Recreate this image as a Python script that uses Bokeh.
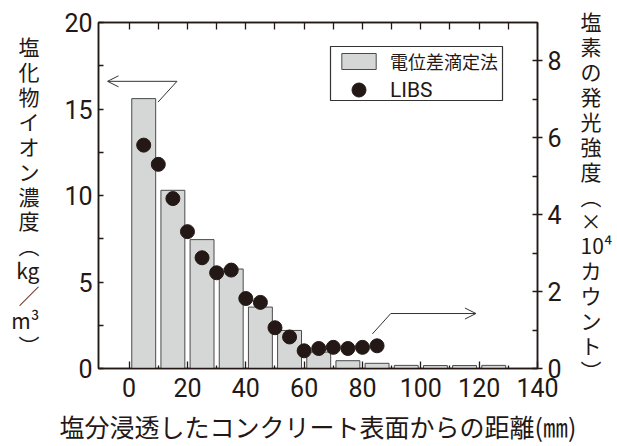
from bokeh.plotting import figure
from bokeh.models import (Range1d, LinearAxis, FixedTicker, Legend, LegendItem,
                          Arrow, OpenHead, BoxAnnotation)
from bokeh.embed import file_html
from bokeh.resources import INLINE

# ---- data ----
bar_depth = [5, 15, 25, 35, 45, 55, 65, 75, 85, 95, 105, 115, 125]
chloride = [15.6, 10.3, 7.45, 5.75, 3.55, 2.2, 0.95, 0.45, 0.3, 0.18, 0.17, 0.17, 0.18]
libs_depth = [5, 10, 15, 20, 25, 30, 35, 40, 45, 50, 55, 60, 65, 70, 75, 80, 85]
libs_intensity = [5.81, 5.31, 4.42, 3.56, 2.88, 2.49, 2.56, 1.82, 1.72, 1.06, 0.82,
                  0.46, 0.52, 0.55, 0.52, 0.55, 0.59]
x_ticks = [0, 20, 40, 60, 80, 100, 120, 140]
x_minor = [10, 30, 50, 70, 90, 110, 130]
top_ticks = [0, 10, 20, 30, 40, 50, 60, 70, 80, 90, 100, 110, 120, 130, 140]
left_ticks = [0, 5, 10, 15, 20]
left_minor = [2.5, 7.5, 12.5, 17.5]
right_ticks = [0, 2, 4, 6, 8]
right_minor = [1, 3, 5, 7]

x_title = "塩分浸透したコンクリート表面からの距離(㎜)"
left_title = ["塩", "化", "物", "イ", "オ", "ン", "濃", "度", "︵", "kg", "／", "m³", "︶"]
right_title = ["塩", "素", "の", "発", "光", "強", "度", "︵", "×", "10⁴", "カ", "ウ", "ン", "ト", "︶"]
bar_name = "電位差滴定法"
libs_name = "LIBS"

# arrows pointing to the axes: (x, y) vertices, last vertex is the head
left_arrow = [(9.9, 15.4), (16.4, 16.6), (-7.4, 16.6)]
right_arrow = [(83.4, 0.9), (89.7, 1.43), (118.9, 1.43)]

JP = "Noto Sans CJK JP"
NUM = "Roboto"
INK = "#231815"

p = figure(frame_width=439, frame_height=346,
           x_range=Range1d(-10.5, 140), y_range=Range1d(0, 20),
           output_backend="svg", toolbar_location=None,
           x_axis_location=None, y_axis_location=None,
           min_border_left=98, min_border_right=80, min_border_top=22, min_border_bottom=78)
p.extra_y_ranges = {"libs": Range1d(0, 9)}
p.outline_line_color = INK
p.outline_line_width = 1.5
p.xgrid.visible = False
p.ygrid.visible = False

def style_axis(ax):
    ax.axis_line_color = INK
    ax.axis_line_width = 1.5
    ax.major_tick_line_color = INK
    ax.minor_tick_line_color = INK
    ax.major_tick_line_width = 1.3
    ax.minor_tick_line_width = 1.3
    ax.major_label_text_font = NUM
    ax.major_label_text_font_size = "25px"
    ax.major_label_text_color = INK
    ax.axis_label_text_font = JP
    ax.axis_label_text_font_style = "normal"
    ax.axis_label_text_color = INK

bottom = LinearAxis(ticker=FixedTicker(ticks=x_ticks, minor_ticks=x_minor),
                    axis_label=x_title)
style_axis(bottom)
bottom.major_tick_in = 7
bottom.major_tick_out = 0
bottom.minor_tick_in = 3
bottom.minor_tick_out = 0
bottom.major_label_standoff = 9
bottom.axis_label_text_font_size = "25px"
bottom.axis_label_standoff = 8
p.add_layout(bottom, "below")

top = LinearAxis(ticker=FixedTicker(ticks=top_ticks))
style_axis(top)
top.major_tick_in = 7
top.major_tick_out = 0
top.minor_tick_in = 0
top.minor_tick_out = 0
top.major_label_text_font_size = "1px"
top.major_label_text_alpha = 0
p.add_layout(top, "above")

left = LinearAxis(ticker=FixedTicker(ticks=left_ticks, minor_ticks=left_minor),
                  axis_label="\n".join(left_title))
style_axis(left)
left.major_tick_in = 5
left.major_tick_out = 0
left.minor_tick_in = 5
left.minor_tick_out = 0
left.major_label_standoff = 6
left.axis_label_orientation = "horizontal"
left.axis_label_text_font_size = "21px"
left.axis_label_text_line_height = 0.83
left.axis_label_standoff = 22
p.add_layout(left, "left")

right = LinearAxis(y_range_name="libs",
                   ticker=FixedTicker(ticks=right_ticks, minor_ticks=right_minor),
                   axis_label="\n".join(right_title))
style_axis(right)
right.major_tick_in = 5
right.major_tick_out = 5
right.minor_tick_in = 5
right.minor_tick_out = 0
right.major_label_standoff = 5
right.axis_label_orientation = "horizontal"
right.axis_label_text_font_size = "21px"
right.axis_label_text_line_height = 0.83
right.axis_label_standoff = 16
p.add_layout(right, "right")

bars = p.vbar(x=bar_depth, top=chloride, bottom=0, width=8.2,
              fill_color="#d5d7d7", line_color="#4a4a4a", line_width=1)
pts = p.scatter(x=libs_depth, y=libs_intensity, y_range_name="libs", size=14,
                fill_color=INK, line_color=INK)

# arrows
for pts_list, rng in ((left_arrow, "default"), (right_arrow, "libs")):
    (x0, y0), (x1, y1), (x2, y2) = pts_list
    p.add_layout(Arrow(end=None, x_start=x0, y_start=y0, x_end=x1, y_end=y1,
                       y_range_name=rng, line_color="#333333", line_width=1))
    p.add_layout(Arrow(end=OpenHead(size=11, line_color="#333333", line_width=1),
                       x_start=x1, y_start=y1, x_end=x2, y_end=y2,
                       y_range_name=rng, line_color="#333333", line_width=1))

# legend frame + two legend rows
box = BoxAnnotation(left=232, right=404, top=322, bottom=268,
                    left_units="screen", right_units="screen",
                    top_units="screen", bottom_units="screen",
                    fill_color="white", fill_alpha=1, line_color="#333333",
                    line_width=1.2, line_alpha=1)
p.add_layout(box)

legA = Legend(items=[LegendItem(label=bar_name, renderers=[bars])],
              location=(239, 294), glyph_width=43, glyph_height=20,
              label_text_font=JP, label_text_font_size="18px", label_text_color=INK,
              label_standoff=10, padding=0, margin=0, spacing=0, label_height=20,
              border_line_alpha=0, background_fill_alpha=0)
legB = Legend(items=[LegendItem(label=libs_name, renderers=[pts])],
              location=(239, 261), glyph_width=43, glyph_height=35,
              label_text_font=NUM, label_text_font_size="21px", label_text_color=INK,
              label_standoff=10, padding=0, margin=0, spacing=0, label_height=20,
              border_line_alpha=0, background_fill_alpha=0)
p.add_layout(legA)
p.add_layout(legB)

open("out.html", "w").write(file_html(p, INLINE))
